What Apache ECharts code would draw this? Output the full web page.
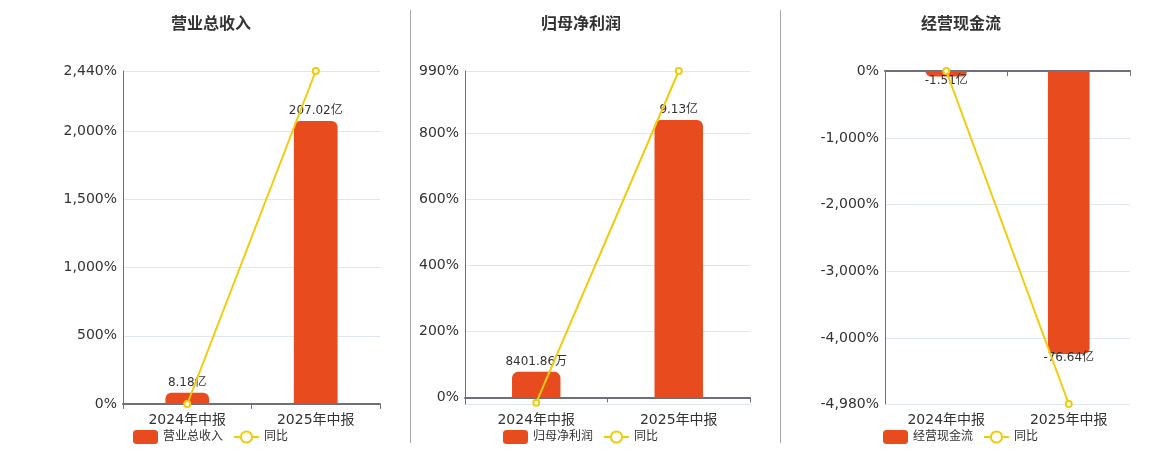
<!DOCTYPE html>
<html>
<head>
<meta charset="utf-8">
<script src="https://cdn.jsdelivr.net/npm/echarts@6/dist/echarts.min.js"></script>
<style>
html, body { margin: 0; padding: 0; background: #fff; }
#main { width: 1160px; height: 450px; }
</style>
</head>
<body>
<div id="main"></div>
<script>
var categories = ['2024年中报', '2025年中报']
var titles = ['营业总收入', '归母净利润', '经营现金流']
// 金额，单位：亿
var revenue = [8.18, 207.02]
var netProfit = [0.840186, 9.13]
var cashFlow = [-1.51, -76.64]
// 同比 %
var revenueYoy = [0, 2440]
var netProfitYoy = [-16, 990]
var cashFlowYoy = [0, -4980]
// 百分比轴范围
var yoyMin = [0, -20, -4980]
var yoyMax = [2440, 990, 0]

var barColor = '#E84B1D'
var lineColor = '#F2CB0A'
var font = 'DejaVu Sans, Noto Sans CJK SC, sans-serif'

var panels = [
    { bars: revenue, yoy: revenueYoy, left: 123, width: 257, center: 210 },
    { bars: netProfit, yoy: netProfitYoy, left: 465, width: 285, center: 580 },
    { bars: cashFlow, yoy: cashFlowYoy, left: 885, width: 245, center: 960 }
]

function fmtMoney(v) {
    if (Math.abs(v) < 1) return (v * 10000).toFixed(2) + '万'
    return v.toFixed(2) + '亿'
}
function fmtPct(v) {
    return v.toLocaleString('en-US') + '%'
}

var option = {
    backgroundColor: '#fff',
    textStyle: { fontFamily: font },
    title: [],
    legend: [],
    grid: [],
    xAxis: [],
    yAxis: [],
    series: [],
    graphic: [
        { type: 'line', shape: { x1: 410.5, y1: 10, x2: 410.5, y2: 443 }, style: { stroke: '#A9A9A3', lineWidth: 1 } },
        { type: 'line', shape: { x1: 780.5, y1: 10, x2: 780.5, y2: 443 }, style: { stroke: '#A9A9A3', lineWidth: 1 } }
    ]
}

panels.forEach(function (p, i) {
    option.title.push({
        text: titles[i],
        left: p.center - 4,
        top: 12,
        textAlign: 'center',
        textStyle: { fontSize: 16, fontWeight: 'bold', color: '#333', fontFamily: font }
    })
    option.legend.push({
        data: [titles[i], '同比'],
        left: p.center - 82,
        top: 425,
        itemWidth: 25,
        itemHeight: 14,
        itemGap: 10,
        textStyle: { fontSize: 12, color: '#333', fontFamily: font }
    })
    option.grid.push({ left: p.left, width: p.width, top: 71, height: 333 })

    // 柱轴与百分比轴零点对齐
    var bMax = Math.max.apply(null, p.bars.map(Math.abs)) / 0.85
    var lo = yoyMin[i], hi = yoyMax[i]
    var barMin, barMax
    if (hi > 0) {
        barMax = bMax
        barMin = lo / hi * bMax
    } else {
        barMin = -bMax
        barMax = 0
    }

    // 零位轴线
    option.xAxis.push({
        type: 'category',
        gridIndex: i,
        data: categories,
        position: 'bottom',
        axisLine: { onZero: true, onZeroAxisIndex: i * 2, lineStyle: { color: '#6E7079', width: 2 } },
        axisTick: { show: true, lineStyle: { color: '#6E7079' } },
        axisLabel: { show: false }
    })
    // 底部标签
    option.xAxis.push({
        type: 'category',
        gridIndex: i,
        data: categories,
        position: 'bottom',
        axisLine: { show: false, onZero: false },
        axisTick: { show: false },
        axisLabel: { fontSize: 14, color: '#333', margin: 9, fontFamily: font }
    })
    option.yAxis.push({
        type: 'value',
        gridIndex: i,
        min: lo,
        max: hi,
        axisLine: { show: true, lineStyle: { color: '#6E7079' } },
        axisTick: { show: false },
        splitLine: { lineStyle: { color: '#E0E6F1' } },
        axisLabel: {
            fontSize: 14, color: '#333', margin: 6, fontFamily: font,
            showMinLabel: i !== 1,
            formatter: fmtPct
        }
    })
    option.yAxis.push({
        type: 'value',
        gridIndex: i,
        min: barMin,
        max: barMax,
        show: false,
        splitLine: { show: false }
    })

    option.series.push({
        name: titles[i],
        type: 'bar',
        xAxisIndex: i * 2,
        yAxisIndex: i * 2 + 1,
        barWidth: '34%',
        itemStyle: { color: barColor },
        data: p.bars.map(function (v) {
            return {
                value: v,
                itemStyle: { borderRadius: v < 0 ? [0, 0, 6, 6] : [6, 6, 0, 0] },
                label: v < 0 ? { position: 'bottom', distance: -2 } : { position: 'top', distance: 4 }
            }
        }),
        label: {
            show: true,
            fontSize: 12,
            color: '#333',
            fontFamily: font,
            formatter: function (a) { return fmtMoney(a.value) }
        }
    })
    option.series.push({
        name: '同比',
        type: 'line',
        xAxisIndex: i * 2,
        yAxisIndex: i * 2,
        symbol: 'emptyCircle',
        symbolSize: 6,
        itemStyle: { color: lineColor },
        lineStyle: { color: lineColor, width: 2 },
        data: p.yoy,
        z: 5
    })
})

var myChart = echarts.init(document.getElementById('main'))
myChart.setOption(option)
</script>
</body>
</html>
